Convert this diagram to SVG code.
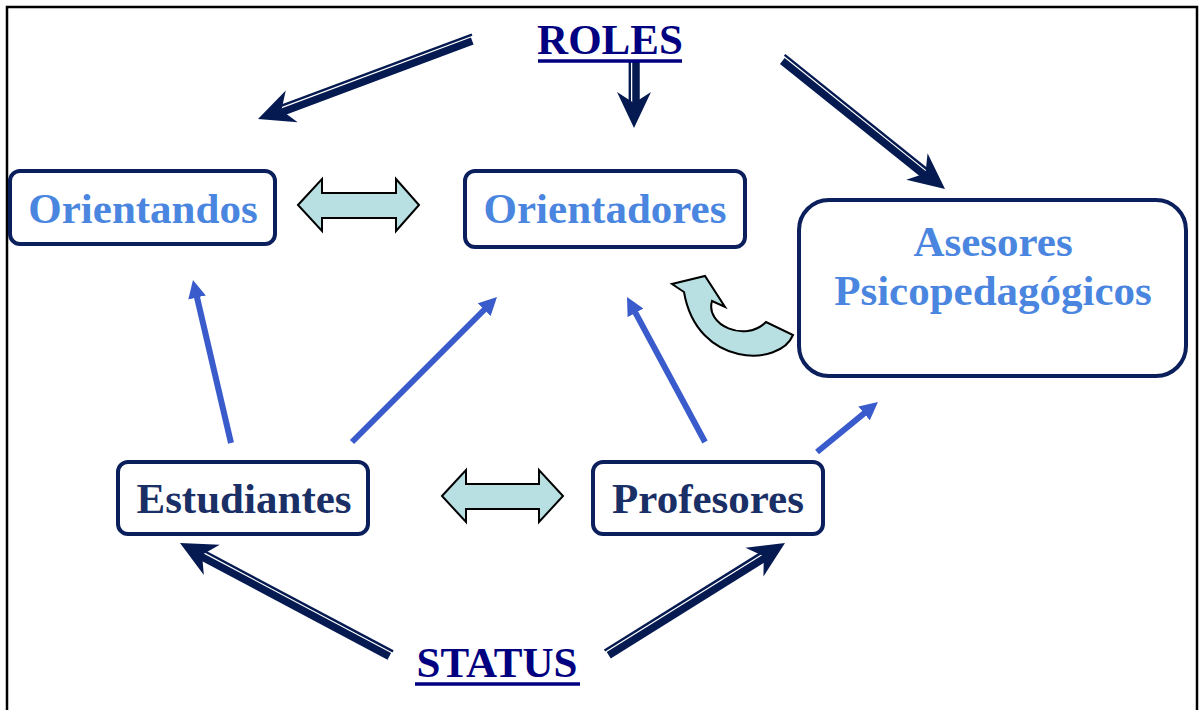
<svg xmlns="http://www.w3.org/2000/svg" width="1202" height="710" viewBox="0 0 1202 710">
<style>
.box{fill:#fff;stroke:#0a1f5c;stroke-width:4}
.t{font-family:"Liberation Serif","Times New Roman",serif;font-weight:bold;font-size:43px;text-anchor:middle}
.lt{fill:#4a86e0}
.dt{fill:#1a2f66}
.hd{fill:#000080}
.ul{stroke:#000080;stroke-width:3.5}
.blue{stroke:#3a5bcc;stroke-width:6;fill:none;marker-end:url(#bh)}
.thick{stroke:#061a52;stroke-width:7.5}
.thin{stroke:#061a52;stroke-width:2.4}
.head{fill:#061a52}
.dbl{fill:#b8e0e3;stroke:#000;stroke-width:2;stroke-linejoin:miter}
</style>
<defs>
<marker id="bh" markerUnits="userSpaceOnUse" markerWidth="18" markerHeight="18" viewBox="0 0 18 18" refX="6" refY="9" orient="auto">
<path d="M0,0 L18,9 L0,18 z" fill="#3a5bcc"/>
</marker>
</defs>
<rect x="7" y="7" width="1190" height="720" fill="#fff" stroke="#000" stroke-width="2.5"/>

<g id="connectors">
<g transform="translate(258,119) rotate(159.5)">
<line x1="-228" y1="-2" x2="-24" y2="-2" class="thick"/>
<line x1="-230" y1="4.2" x2="-24" y2="4.2" class="thin"/>
<path d="M0,0 L-36,-17 L-25,0 L-36,17 z" class="head"/>
</g>
<g transform="translate(634,128) rotate(90)">
<line x1="-68" y1="-2" x2="-24" y2="-2" class="thick"/>
<line x1="-68" y1="4.2" x2="-24" y2="4.2" class="thin"/>
<path d="M0,0 L-36,-17 L-25,0 L-36,17 z" class="head"/>
</g>
<g transform="translate(945,189) rotate(38.75) scale(1,-1)">
<line x1="-207" y1="-2" x2="-24" y2="-2" class="thick"/>
<line x1="-209" y1="4.2" x2="-24" y2="4.2" class="thin"/>
<path d="M0,0 L-36,-17 L-25,0 L-36,17 z" class="head"/>
</g>
<g transform="translate(180,543) rotate(-152.04)">
<line x1="-238" y1="-2" x2="-24" y2="-2" class="thick"/>
<line x1="-239" y1="4.2" x2="-24" y2="4.2" class="thin"/>
<path d="M0,0 L-36,-17 L-25,0 L-36,17 z" class="head"/>
</g>
<g transform="translate(785,543) rotate(-31.95) scale(1,-1)">
<line x1="-209" y1="-2" x2="-24" y2="-2" class="thick"/>
<line x1="-210" y1="4.2" x2="-24" y2="4.2" class="thin"/>
<path d="M0,0 L-36,-17 L-25,0 L-36,17 z" class="head"/>
</g>
<line x1="231" y1="443" x2="195.7" y2="291.7" class="blue"/>
<line x1="352" y1="442" x2="488.5" y2="305.5" class="blue"/>
<line x1="705" y1="442" x2="632.7" y2="307.6" class="blue"/>
<line x1="817" y1="452" x2="868.7" y2="409.6" class="blue"/>
<path class="dbl" d="M298,205 L322,179 L322,193 L396,193 L396,179 L419,205 L396,231 L396,218 L322,218 L322,231 z"/>
<path class="dbl" d="M442,496 L466,470 L466,484 L539,484 L539,470 L563,496 L539,522 L539,509 L466,509 L466,522 z"/>
<path class="dbl" d="M793,335 C780,367 697,368 684,292 L672,284 L705,276 L725,307 L712,301 C705,325 745,343 766,322 z"/>
</g>

<g id="roles"><text x="610" y="54" class="t hd">ROLES</text><line x1="538" y1="61" x2="682" y2="61" class="ul"/></g>
<g id="status"><text x="497" y="677" class="t hd">STATUS</text><line x1="415" y1="684" x2="580" y2="684" class="ul"/></g>

<g id="orientandos">
<rect x="10" y="171" width="265" height="73" rx="10" class="box"/>
<text x="143" y="223" class="t lt">Orientandos</text>
</g>
<g id="orientadores">
<rect x="465" y="171" width="280" height="76" rx="10" class="box"/>
<text x="605" y="223" class="t lt">Orientadores</text>
</g>
<g id="asesores">
<rect x="799" y="200" width="387" height="176" rx="30" class="box"/>
<text x="993" y="256" class="t lt">Asesores</text>
<text x="993" y="305" class="t lt">Psicopedagógicos</text>
</g>
<g id="estudiantes">
<rect x="118" y="462" width="250" height="72" rx="10" class="box"/>
<text x="244" y="513" class="t dt">Estudiantes</text>
</g>
<g id="profesores">
<rect x="593" y="462" width="230" height="72" rx="10" class="box"/>
<text x="708" y="513" class="t dt">Profesores</text>
</g>
</svg>
